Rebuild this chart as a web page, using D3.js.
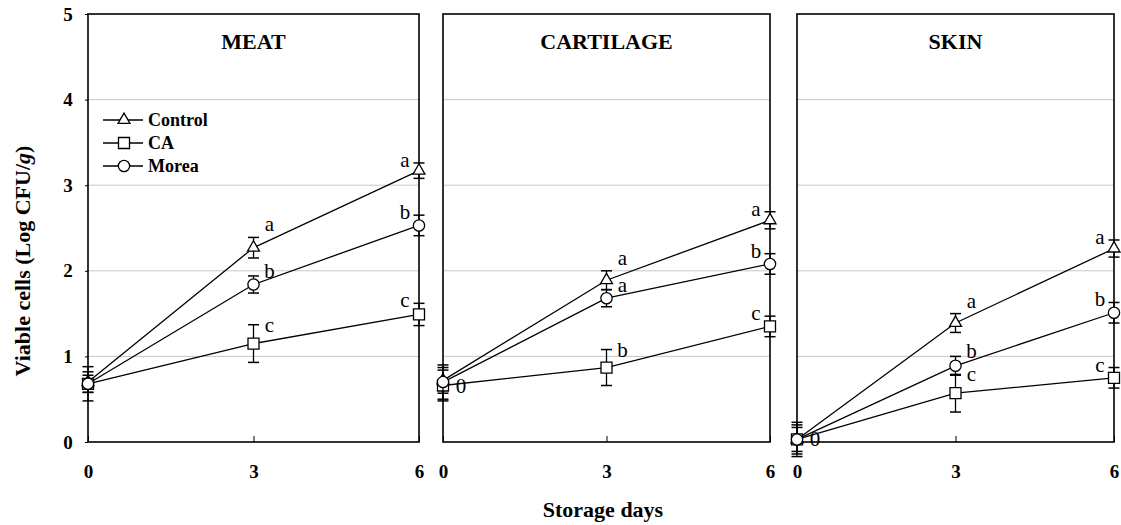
<!DOCTYPE html>
<html>
<head>
<meta charset="utf-8">
<script src="https://cdn.jsdelivr.net/npm/d3@7"></script>
<style>
  body { margin: 0; background: #fff; }
  svg { display: block; font-family: "Liberation Serif", "Times New Roman", serif; }
  .grid line { stroke: #c8c8c8; stroke-width: 1; }
  .tick text { font-family: "Liberation Serif", "Times New Roman", serif; font-weight: bold; font-size: 19px; fill: #000; }
</style>
</head>
<body>
<div id="chart"></div>
<script>
// panels, days and series
var panels = ["MEAT", "CARTILAGE", "SKIN"];
var days = [0, 3, 6];
var series = ["Control", "CA", "Morea"];
var yTicks = [0, 1, 2, 3, 4, 5];

// values (Log CFU/g)
var meatControl = [0.70, 2.27, 3.17];
var meatControlErr = [0.12, 0.12, 0.09];
var meatCA = [0.68, 1.15, 1.49];
var meatCAErr = [0.20, 0.22, 0.13];
var meatMorea = [0.68, 1.84, 2.53];
var meatMoreaErr = [0.10, 0.10, 0.12];

var cartControl = [0.72, 1.89, 2.59];
var cartControlErr = [0.15, 0.11, 0.10];
var cartCA = [0.66, 0.87, 1.35];
var cartCAErr = [0.18, 0.21, 0.12];
var cartMorea = [0.70, 1.68, 2.08];
var cartMoreaErr = [0.20, 0.10, 0.12];

var skinControl = [0.03, 1.39, 2.26];
var skinControlErr = [0.17, 0.11, 0.10];
var skinCA = [0.03, 0.57, 0.75];
var skinCAErr = [0.14, 0.22, 0.12];
var skinMorea = [0.03, 0.89, 1.51];
var skinMoreaErr = [0.20, 0.11, 0.12];

// significance letters
var meatControlLab = ["", "a", "a"];
var meatCALab = ["", "c", "c"];
var meatMoreaLab = ["", "b", "b"];
var cartControlLab = ["", "a", "a"];
var cartCALab = ["0", "b", "c"];
var cartMoreaLab = ["", "a", "b"];
var skinControlLab = ["", "a", "a"];
var skinCALab = ["0", "c", "c"];
var skinMoreaLab = ["", "b", "b"];

var panelData = [
  [[meatControl, meatControlErr, meatControlLab], [meatCA, meatCAErr, meatCALab], [meatMorea, meatMoreaErr, meatMoreaLab]],
  [[cartControl, cartControlErr, cartControlLab], [cartCA, cartCAErr, cartCALab], [cartMorea, cartMoreaErr, cartMoreaLab]],
  [[skinControl, skinControlErr, skinControlLab], [skinCA, skinCAErr, skinCALab], [skinMorea, skinMoreaErr, skinMoreaLab]]
];

var width = 1121, height = 525;
var plotTop = 14, plotBottom = 442;
var panelX = [[88, 419], [443, 770], [797, 1114]];

// how far the day-3 letter sits from the top error cap, by series
var midLetterShift = { "Control": -6, "CA": 7, "Morea": 2 };

var symbols = {
  "Control": d3.symbol().type(d3.symbolTriangle).size(62),
  "CA": d3.symbol().type(d3.symbolSquare).size(121),
  "Morea": d3.symbol().type(d3.symbolCircle).size(100)
};

var svg = d3.select("#chart").append("svg")
  .attr("width", width)
  .attr("height", height);

var y = d3.scaleLinear().domain([0, 5]).range([plotBottom, plotTop]);

panels.forEach(function(name, p) {
  var x = d3.scaleLinear().domain([0, 6]).range(panelX[p]);
  var g = svg.append("g");

  // gridlines
  g.append("g").attr("class", "grid")
    .selectAll("line")
    .data(yTicks.filter(function(t) { return t > 0 && t < 5; }))
    .enter().append("line")
    .attr("x1", x(0)).attr("x2", x(6))
    .attr("y1", function(d) { return y(d); })
    .attr("y2", function(d) { return y(d); });

  // y axis only on the first panel
  if (p == 0) {
    var ya = g.append("g")
      .attr("transform", "translate(" + x(0) + ",0)")
      .call(d3.axisLeft(y).tickValues(yTicks).tickSize(3).tickSizeOuter(0).tickPadding(11).tickFormat(d3.format("d")));
    ya.select(".domain").remove();
    ya.selectAll(".tick line").attr("stroke", "#000");
    ya.selectAll(".tick text").attr("text-anchor", "middle").attr("x", -20);
  }

  // x axis, ticks pointing inward
  var xa = g.append("g")
    .attr("transform", "translate(0," + plotBottom + ")")
    .call(d3.axisBottom(x).tickValues(days).tickSize(-6).tickSizeOuter(0).tickPadding(23).tickFormat(d3.format("d")));
  xa.select(".domain").remove();
  xa.selectAll(".tick line").attr("stroke", "#000");

  // frame
  g.append("rect")
    .attr("x", x(0)).attr("y", plotTop)
    .attr("width", x(6) - x(0)).attr("height", plotBottom - plotTop)
    .attr("fill", "none").attr("stroke", "#000").attr("stroke-width", 1.6);

  // panel title
  g.append("text")
    .attr("x", (x(0) + x(6)) / 2).attr("y", 49)
    .attr("text-anchor", "middle")
    .style("font-weight", "bold").style("font-size", "22px")
    .text(name);

  var line = d3.line()
    .x(function(d, i) { return x(days[i]); })
    .y(function(d) { return y(d); });

  panelData[p].forEach(function(s, k) {
    var vals = s[0], errs = s[1], labs = s[2];
    var sg = g.append("g");

    sg.append("path")
      .datum(vals)
      .attr("d", line)
      .attr("fill", "none").attr("stroke", "#000").attr("stroke-width", 1.3);

    // error bars
    var eb = sg.selectAll(".err").data(vals).enter().append("g");
    eb.append("line")
      .attr("x1", function(d, i) { return x(days[i]); })
      .attr("x2", function(d, i) { return x(days[i]); })
      .attr("y1", function(d, i) { return y(d + errs[i]); })
      .attr("y2", function(d, i) { return y(d - errs[i]); })
      .attr("stroke", "#000").attr("stroke-width", 1.3);
    [1, -1].forEach(function(sign) {
      eb.append("line")
        .attr("x1", function(d, i) { return x(days[i]) - 5.5; })
        .attr("x2", function(d, i) { return x(days[i]) + 5.5; })
        .attr("y1", function(d, i) { return y(d + sign * errs[i]); })
        .attr("y2", function(d, i) { return y(d + sign * errs[i]); })
        .attr("stroke", "#000").attr("stroke-width", 1.5);
    });

    // markers
    sg.selectAll(".mk").data(vals).enter().append("path")
      .attr("d", symbols[series[k]])
      .attr("transform", function(d, i) { return "translate(" + x(days[i]) + "," + y(d) + ")"; })
      .attr("fill", "#fff").attr("stroke", "#000").attr("stroke-width", 1.3);

    // letters
    sg.selectAll(".lab").data(vals).enter().append("text")
      .attr("x", function(d, i) {
        if (i == 0) return x(days[i]) + 18;
        return i == 2 ? x(days[i]) - 14 : x(days[i]) + 16;
      })
      .attr("y", function(d, i) {
        if (i == 0) return y(d) + 7;
        return y(d + errs[i]) + (i == 2 ? 4 : midLetterShift[series[k]]);
      })
      .attr("text-anchor", "middle")
      .style("font-size", "21px")
      .text(function(d, i) { return labs[i]; });
  });
});

// legend inside the MEAT panel
var legend = svg.append("g");
series.forEach(function(name, k) {
  var ly = 120 + k * 23;
  legend.append("line")
    .attr("x1", 103).attr("x2", 143).attr("y1", ly).attr("y2", ly)
    .attr("stroke", "#000").attr("stroke-width", 1.3);
  legend.append("path")
    .attr("d", symbols[name])
    .attr("transform", "translate(124," + ly + ")")
    .attr("fill", "#fff").attr("stroke", "#000").attr("stroke-width", 1.3);
  legend.append("text")
    .attr("x", 148).attr("y", ly + 6)
    .style("font-weight", "bold").style("font-size", "18px")
    .text(name);
});

// axis titles
var yt = svg.append("text")
  .attr("transform", "translate(30,261) rotate(-90)")
  .attr("text-anchor", "middle")
  .style("font-weight", "bold").style("font-size", "22px");
yt.append("tspan").text("Viable cells (Log CFU/");
yt.append("tspan").style("font-style", "italic").text("g");
yt.append("tspan").text(")");

svg.append("text")
  .attr("x", 603).attr("y", 517)
  .attr("text-anchor", "middle")
  .style("font-weight", "bold").style("font-size", "22px")
  .text("Storage days");
</script>
</body>
</html>
